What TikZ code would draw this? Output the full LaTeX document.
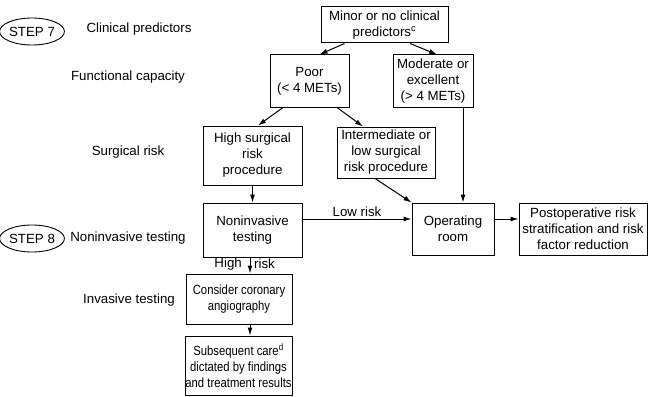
\documentclass[tikz,border=0pt]{standalone}
\usepackage{fontspec}
\setmainfont{Liberation Sans}
\usetikzlibrary{shapes.geometric,arrows.meta}
\begin{document}
\begin{tikzpicture}[x=1pt,y=-1pt,
  font=\fontsize{13.3}{16}\selectfont,
  box/.style={draw, line width=1pt, align=center, inner sep=0pt},
  narrowbox/.style={box, font=\fontsize{13.3}{16}\selectfont\addfontfeature{FakeStretch=0.85}},
  stepoval/.style={draw, ellipse, line width=0.9pt, inner sep=0pt,
    minimum width=54pt, minimum height=27pt},
  lbl/.style={inner sep=0pt, anchor=center},
  arr/.style={line width=1pt, -{Latex[length=8pt,width=5pt]}}
]
\useasboundingbox (0,0) rectangle (650,396);

% left-hand column of step labels
\node[stepoval] (s7) at (32,31.5) {STEP 7};
\node[stepoval] (s8) at (32,238.5) {STEP 8};
\node[lbl] (lclin) at (139,29) {Clinical predictors};
\node[lbl] (lfunc) at (128,77) {Functional capacity};
\node[lbl] (lsurg) at (128,152) {Surgical risk};
\node[lbl] (lnon)  at (128,238) {Noninvasive testing};
\node[lbl] (linv)  at (129,300) {Invasive testing};

% flowchart boxes
\node[box, minimum width=127, minimum height=36] (minor) at (384.5,25)
  {Minor or no clinical\\predictors\textsuperscript{c}};
\node[box, minimum width=79, minimum height=52] (poor) at (309.5,81)
  {Poor\\(< 4 METs)};
\node[box, minimum width=80, minimum height=52] (moder) at (433,81)
  {Moderate or\\excellent\\(> 4 METs)};
\node[box, minimum width=99, minimum height=59] (high) at (252.5,155.5)
  {High surgical\\risk\\procedure};
\node[box, minimum width=98, minimum height=51] (inter) at (386,152.5)
  {Intermediate or\\low surgical\\risk procedure};
\node[box, minimum width=99, minimum height=54] (noninv) at (252.5,230)
  {Noninvasive\\testing};
\node[box, minimum width=82, minimum height=52] (oper) at (453,229)
  {Operating\\room};
\node[box, minimum width=128, minimum height=52] (post) at (583,229)
  {Postoperative risk\\stratification and risk\\factor reduction};
\node[narrowbox, minimum width=106, minimum height=50] (consider) at (239,299)
  {Consider coronary\\angiography};
\node[narrowbox, minimum width=107, minimum height=59] (subseq) at (238.5,365.5)
  {Subsequent care\textsuperscript{d}\\dictated by findings\\and treatment results};

% connectors
\draw[arr] ([xshift=-40]minor.south) -- ([xshift=10]poor.north);
\draw[arr] ([xshift=25.5]minor.south) -- ([xshift=4]moder.north);
\draw[arr] ([xshift=-26.5]poor.south) -- ([xshift=5.5]high.north);
\draw[arr] ([xshift=27.5]poor.south) -- ([xshift=-23]inter.north);
\draw[arr] ([xshift=30]moder.south) -- ([xshift=30]moder.south |- oper.north);
\draw[arr] (high.south) -- (noninv.north);
\draw[arr] ([xshift=-11]inter.south) -- (oper.north west);
\draw[arr] ([yshift=11]noninv.east) -- ([yshift=11]noninv.east -| oper.west)
  node[midway, above=2pt, inner sep=0pt] (lowrisk) {Low risk};
\draw[arr] ([yshift=10]oper.east) -- ([yshift=10]oper.east -| post.west);
\draw[arr] ([xshift=-2.5]noninv.south) -- ([xshift=-2.5]noninv.south |- consider.north);
\node[lbl, anchor=east] (hi) at (242,264) {High};
\node[lbl, anchor=west] (rk) at (254,264) {risk};
\draw[arr] ([xshift=11]consider.south) -- ([xshift=11]consider.south |- subseq.north);
\end{tikzpicture}
\end{document}
